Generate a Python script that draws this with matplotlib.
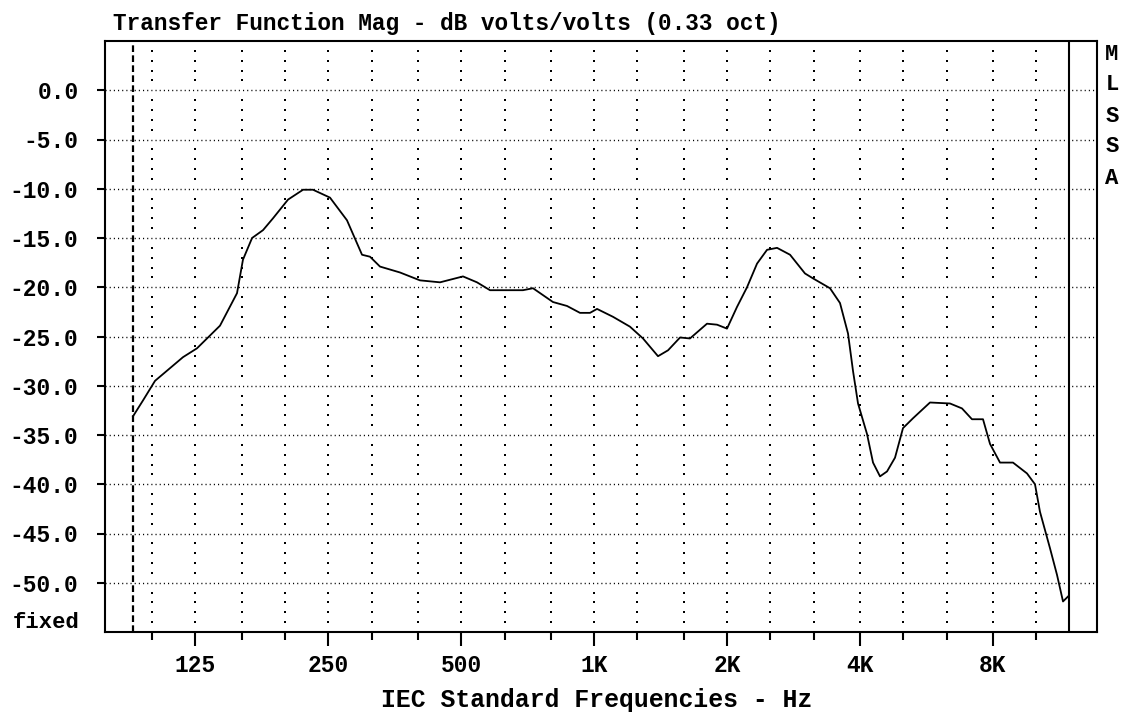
import numpy as np
import matplotlib
matplotlib.use('Agg')
import matplotlib.pyplot as plt
from matplotlib.ticker import FixedLocator, NullFormatter

freq = [90.5, 95.3, 101.5, 117.4, 126.3, 142.4, 155.6, 160.5, 168.3, 178.2,
        187.7, 203.0, 219.5, 231.2, 252.6, 276.0, 298.5, 311.2, 327.8, 363.8,
        403.7, 448.2, 505.2, 543.5, 581.6, 612.7, 690.7, 727.7, 807.5, 868.8,
        929.6, 979.3, 1016, 1104, 1206, 1291, 1396, 1471, 1566, 1649,
        1802, 1899, 2000, 2107, 2220, 2339, 2464, 2596, 2778, 3003,
        3131, 3421, 3604, 3758, 3857, 3959, 4149, 4281, 4440, 4605,
        4801, 5005, 5273, 5761, 6394, 6806, 7170, 7594, 7876, 8298,
        8879, 9550, 9957, 10220, 10768, 11168, 11523, 11826]
mag_db = [-33.1, -31.5, -29.5, -27.1, -26.2, -23.9, -20.6, -17.2, -15.0, -14.2,
          -13.0, -11.1, -10.1, -10.1, -10.9, -13.2, -16.7, -16.9, -17.9, -18.5,
          -19.3, -19.5, -18.9, -19.5, -20.3, -20.3, -20.3, -20.1, -21.5, -21.9,
          -22.6, -22.6, -22.2, -23.0, -24.0, -25.2, -27.0, -26.4, -25.1, -25.2,
          -23.7, -23.8, -24.2, -22.0, -20.0, -17.6, -16.2, -16.0, -16.7, -18.6,
          -19.1, -20.1, -21.6, -24.7, -28.5, -31.8, -34.9, -37.8, -39.2, -38.7,
          -37.3, -34.3, -33.3, -31.7, -31.8, -32.3, -33.4, -33.4, -35.9, -37.8,
          -37.8, -38.9, -40.0, -42.8, -46.5, -49.2, -51.9, -51.4]

third_oct = [100, 125, 160, 200, 250, 315, 400, 500, 630, 800, 1000, 1250, 1600,
             2000, 2500, 3150, 4000, 5000, 6300, 8000, 10000]
major_freqs = [125, 250, 500, 1000, 2000, 4000, 8000]
major_labels = ['125', '250', '500', '1K', '2K', '4K', '8K']
db_ticks = [0, -5, -10, -15, -20, -25, -30, -35, -40, -45, -50]
db_labels = ['0.0', '-5.0', '-10.0', '-15.0', '-20.0', '-25.0', '-30.0',
             '-35.0', '-40.0', '-45.0', '-50.0']
cursor_lo = 90.5
cursor_hi = 11890
side_letters = ['M', 'L', 'S', 'S', 'A']

W, H = 1127, 719
fig = plt.figure(figsize=(W / 100, H / 100), dpi=100)
ax = fig.add_axes([105 / W, 1 - 632 / H, (1097 - 105) / W, (632 - 41) / H])
ax.set_xscale('log')
ax.set_xlim(78.2, 13756)
ax.set_ylim(-55, 5)

mono = 'Liberation Mono'

# grid: dotted horizontals every 5 dB, dotted verticals (1 dB dots) at 1/3 octaves
for d in db_ticks:
    ax.axhline(d, color='black', lw=1.0, ls=(0, (0.8, 2.2)), zorder=1)
dot_db = [d for d in range(-54, 5) if d % 5 != 0]
gx, gy = np.meshgrid(third_oct, dot_db)
ax.scatter(gx.ravel(), gy.ravel(), s=2.5, marker='s', color='black', lw=0, zorder=1)

ax.axvline(cursor_lo, color='black', lw=1.6, ls=(0, (3, 1.5)), zorder=2)
ax.axvline(cursor_hi, color='black', lw=1.5, zorder=2)

ax.plot(freq, mag_db, color='black', lw=1.3, zorder=3)

ax.xaxis.set_major_locator(FixedLocator(major_freqs))
ax.xaxis.set_minor_locator(FixedLocator([f for f in third_oct if f not in major_freqs]))
ax.set_xticklabels(major_labels)
ax.xaxis.set_minor_formatter(NullFormatter())
ax.set_yticks(db_ticks)
ax.set_yticklabels(db_labels)
ax.tick_params(axis='x', which='major', length=10, width=1.5, pad=6)
ax.tick_params(axis='x', which='minor', length=6, width=1.5)
ax.tick_params(axis='y', which='major', length=6, width=1.5, pad=13)
ax.tick_params(axis='y', which='minor', length=0)
for lab in ax.get_xticklabels() + ax.get_yticklabels():
    lab.set_fontfamily(mono)
    lab.set_fontweight('bold')
    lab.set_fontsize(16.5)
for s in ax.spines.values():
    s.set_linewidth(1.5)

fig.text(80 / W, 1 - 623 / H, 'fixed', ha='right', va='center',
         family=mono, weight='bold', fontsize=16)
fig.text(113 / W, 1 - 30 / H, 'Transfer Function Mag - dB volts/volts (0.33 oct)',
         ha='left', va='baseline', family=mono, weight='bold', fontsize=16.4)
fig.text(597 / W, 1 - 700 / H, 'IEC Standard Frequencies - Hz', ha='center',
         va='center', family=mono, weight='bold', fontsize=17.8)
for i, ch in enumerate(side_letters):
    fig.text(1112 / W, 1 - (54 + 31 * i) / H, ch, ha='center', va='center',
             family=mono, weight='bold', fontsize=16)

fig.savefig('out.png', dpi=100, facecolor='white')
